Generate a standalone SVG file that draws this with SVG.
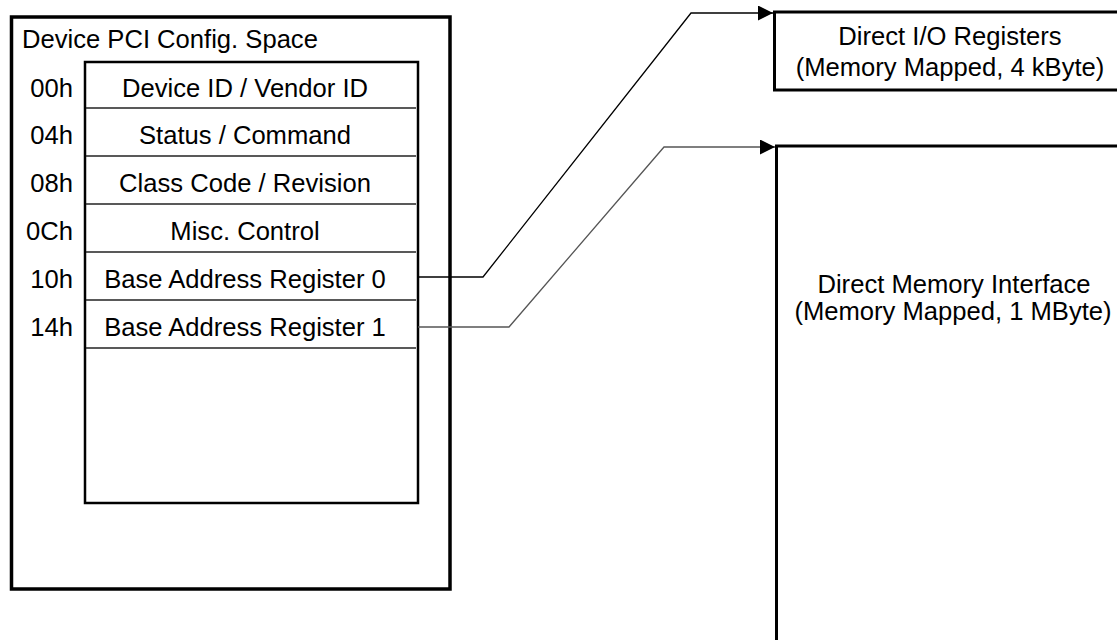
<svg xmlns="http://www.w3.org/2000/svg" width="1117" height="640" viewBox="0 0 1117 640">
<style>
text{font-family:"Liberation Sans",Arial,sans-serif;font-size:25.6px;fill:#000}
.c{text-anchor:middle}
.r{text-anchor:end}
.sep{stroke:#222;stroke-width:1.3}
.conn{fill:none;stroke-width:1.3}
</style>
<defs>
<marker id="ah" markerWidth="16" markerHeight="16" refX="15" refY="7.5" orient="auto" markerUnits="userSpaceOnUse">
<path d="M0,0 L15,7.5 L0,15 Z" fill="#000"/>
</marker>
</defs>
<rect width="1117" height="640" fill="#fff"/>
<g id="config-space">
<rect x="11.5" y="17" width="438.5" height="572" fill="none" stroke="#000" stroke-width="3.5"/>
<text x="22" y="48">Device PCI Config. Space</text>
<rect x="85" y="62" width="333" height="441" fill="none" stroke="#000" stroke-width="2.5"/>
<line class="sep" x1="86" y1="108" x2="416" y2="108"/>
<line class="sep" x1="86" y1="156" x2="416" y2="156"/>
<line class="sep" x1="86" y1="204" x2="416" y2="204"/>
<line class="sep" x1="86" y1="252" x2="416" y2="252"/>
<line class="sep" x1="86" y1="300" x2="416" y2="300"/>
<line class="sep" x1="86" y1="348" x2="416" y2="348"/>
<text class="r" x="73" y="97">00h</text>
<text class="r" x="73" y="144">04h</text>
<text class="r" x="73" y="192">08h</text>
<text class="r" x="73" y="240">0Ch</text>
<text class="r" x="73" y="288">10h</text>
<text class="r" x="73" y="336">14h</text>
<text class="c" x="245" y="97">Device ID / Vendor ID</text>
<text class="c" x="245" y="144">Status / Command</text>
<text class="c" x="245" y="192">Class Code / Revision</text>
<text class="c" x="245" y="240">Misc. Control</text>
<text class="c" x="245" y="288">Base Address Register 0</text>
<text class="c" x="245" y="336">Base Address Register 1</text>
</g>
<g id="direct-io">
<rect x="774.5" y="12" width="360" height="78" fill="#fff" stroke="#000" stroke-width="3"/>
<text class="c" x="950" y="45">Direct I/O Registers</text>
<text class="c" x="950" y="76">(Memory Mapped, 4 kByte)</text>
</g>
<g id="direct-memory">
<rect x="776.5" y="146" width="360" height="520" fill="#fff" stroke="#000" stroke-width="3"/>
<text class="c" x="954" y="293">Direct Memory Interface</text>
<text class="c" x="953" y="320">(Memory Mapped, 1 MByte)</text>
</g>
<g id="connectors">
<polyline class="conn" stroke="#000" points="418,277 483,277 691,13 773,13" marker-end="url(#ah)"/>
<polyline class="conn" stroke="#555" points="418,327 509,327 664,147 775,147" marker-end="url(#ah)"/>
</g>
</svg>
